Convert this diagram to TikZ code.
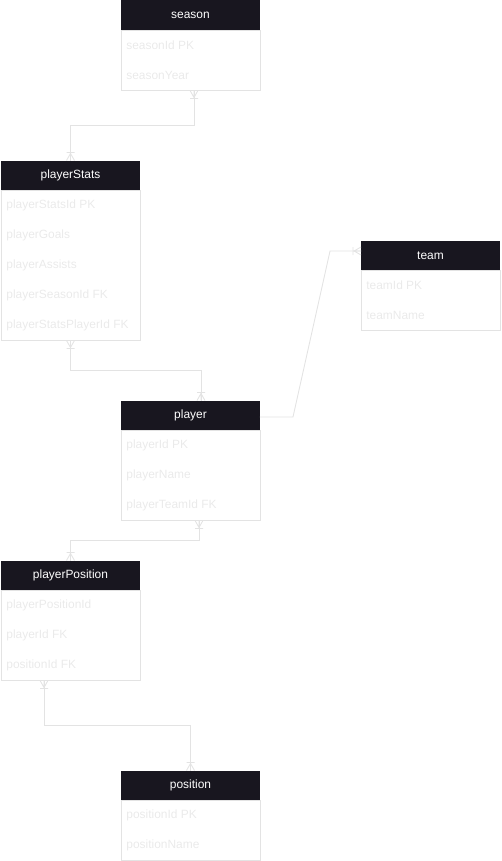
\documentclass[tikz,border=0pt]{standalone}
\usepackage{fontspec}
\setmainfont{Liberation Sans}
\usetikzlibrary{positioning}
\definecolor{hdrdark}{HTML}{18161F}
\definecolor{edgegray}{HTML}{E3E3E3}
\definecolor{fieldgray}{HTML}{EAEAEA}
\tikzset{
  hdr/.style={fill=hdrdark,text=white,inner sep=0pt,outer sep=0pt,
    minimum width=2.78cm,minimum height=0.6cm,font=\fontsize{6.8}{8}\selectfont},
  tbl/.style={draw=edgegray,line width=0.5pt,inner sep=0pt,outer sep=0pt,
    minimum width=2.78cm},
  fld/.style={anchor=west,inner sep=0pt,text=fieldgray,font=\fontsize{6.8}{8}\selectfont},
  rel/.style={draw=edgegray,line width=0.5pt},
  crow/.pic={\draw[rel] (-4,0) -- (0,7) -- (4,0) (0,0) -- (0,7) (-4,8) -- (4,8);}
}
\begin{document}
\begin{tikzpicture}[x=0.02cm,y=-0.02cm]
  \useasboundingbox (0,0) rectangle (501,861);

  % tables
  \node[hdr] (season) at (190.5,15.5) {season};
  \node[tbl,minimum height=1.2cm,below=0pt of season] (season-b) {};
  \foreach \f [count=\i] in {seasonId PK,seasonYear}
    \node[fld] (season-\i) at ([xshift=0.1cm,yshift={-0.29cm-(\i-1)*0.6cm}]season-b.north west) {\f};

  \node[hdr] (playerStats) at (70.5,175.5) {playerStats};
  \node[tbl,minimum height=3cm,below=0pt of playerStats] (playerStats-b) {};
  \foreach \f [count=\i] in {playerStatsId PK,playerGoals,playerAssists,playerSeasonId FK,playerStatsPlayerId FK}
    \node[fld] (playerStats-\i) at ([xshift=0.1cm,yshift={-0.29cm-(\i-1)*0.6cm}]playerStats-b.north west) {\f};

  \node[hdr] (team) at (430.5,255.5) {team};
  \node[tbl,minimum height=1.2cm,below=0pt of team] (team-b) {};
  \foreach \f [count=\i] in {teamId PK,teamName}
    \node[fld] (team-\i) at ([xshift=0.1cm,yshift={-0.29cm-(\i-1)*0.6cm}]team-b.north west) {\f};

  \node[hdr] (player) at (190.5,415.5) {player};
  \node[tbl,minimum height=1.8cm,below=0pt of player] (player-b) {};
  \foreach \f [count=\i] in {playerId PK,playerName,playerTeamId FK}
    \node[fld] (player-\i) at ([xshift=0.1cm,yshift={-0.29cm-(\i-1)*0.6cm}]player-b.north west) {\f};

  \node[hdr] (playerPosition) at (70.5,575.5) {playerPosition};
  \node[tbl,minimum height=1.8cm,below=0pt of playerPosition] (playerPosition-b) {};
  \foreach \f [count=\i] in {playerPositionId,playerId FK,positionId FK}
    \node[fld] (playerPosition-\i) at ([xshift=0.1cm,yshift={-0.29cm-(\i-1)*0.6cm}]playerPosition-b.north west) {\f};

  \node[hdr] (position) at (190.5,785.5) {position};
  \node[tbl,minimum height=1.2cm,below=0pt of position] (position-b) {};
  \foreach \f [count=\i] in {positionId PK,positionName}
    \node[fld] (position-\i) at ([xshift=0.1cm,yshift={-0.29cm-(\i-1)*0.6cm}]position-b.north west) {\f};

  % relations
  \draw[rel] ([xshift=0.07cm]season-b.south) -- ++(0,35) -| (playerStats.north);
  \pic at ([xshift=0.07cm]season-b.south) {crow};
  \pic[rotate=180] at (playerStats.north) {crow};

  \draw[rel] (playerStats-b.south) -- ++(0,30) -| ([xshift=0.21cm]player.north);
  \pic at (playerStats-b.south) {crow};
  \pic[rotate=180] at ([xshift=0.21cm]player.north) {crow};

  \draw[rel] ([yshift=-0.03cm]player.east) -- ++(33,0)
    -- ([xshift=-0.62cm,yshift=0.09cm]team.west) -- ([yshift=0.09cm]team.west);
  \pic[rotate=-90] at ([yshift=0.09cm]team.west) {crow};

  \draw[rel] ([xshift=0.17cm]player-b.south) -- ++(0,20) -| (playerPosition.north);
  \pic at ([xshift=0.17cm]player-b.south) {crow};
  \pic[rotate=180] at (playerPosition.north) {crow};

  \draw[rel] ([xshift=-0.53cm]playerPosition-b.south) -- ++(0,45) -| (position.north);
  \pic at ([xshift=-0.53cm]playerPosition-b.south) {crow};
  \pic[rotate=180] at (position.north) {crow};
\end{tikzpicture}
\end{document}
